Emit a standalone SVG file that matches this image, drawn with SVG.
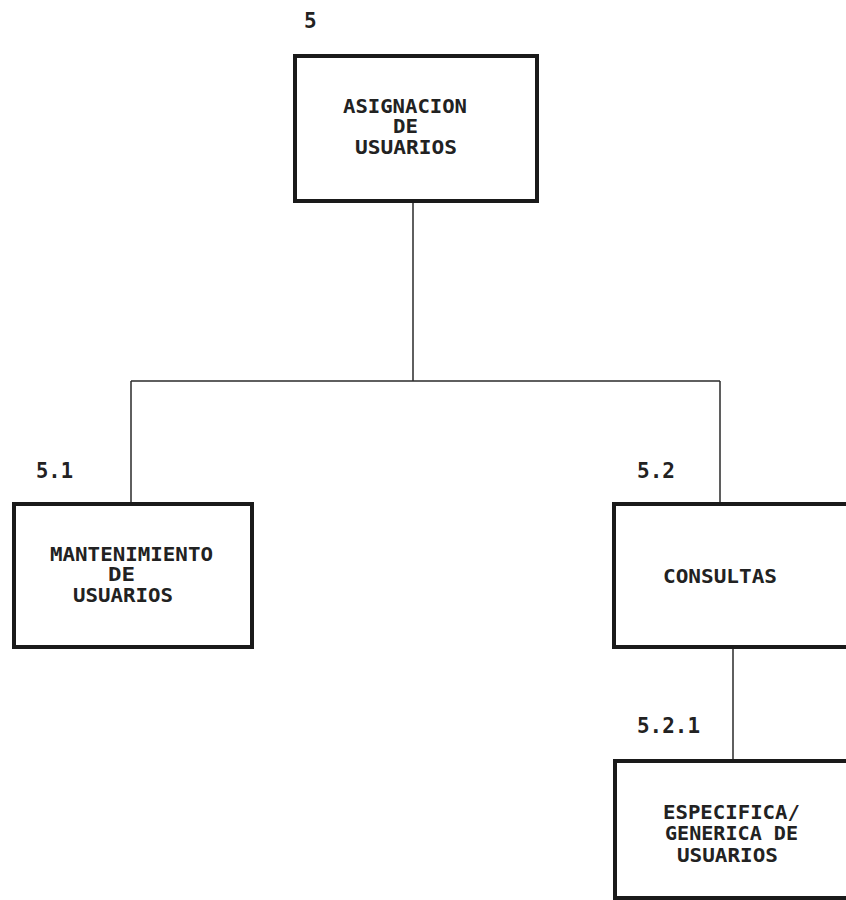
<svg xmlns="http://www.w3.org/2000/svg" width="846" height="900" viewBox="0 0 846 900">
<style>
.box{fill:#fff;stroke:#1a1a1a;stroke-width:4}
.conn{fill:none;stroke:#2a2a2a;stroke-width:1.5}
.t{font-family:"DejaVu Sans Mono","Liberation Mono",monospace;font-size:19px;font-weight:bold;fill:#222}
.lbl{font-family:"DejaVu Sans Mono","Liberation Mono",monospace;font-size:21px;font-weight:bold;fill:#222}
</style>
<rect width="846" height="900" fill="#fff"/>
<g id="connectors">
<line class="conn" x1="413" y1="202" x2="413" y2="381"/>
<line class="conn" x1="131" y1="381" x2="720" y2="381"/>
<line class="conn" x1="131" y1="381" x2="131" y2="503"/>
<line class="conn" x1="720" y1="381" x2="720" y2="503"/>
<line class="conn" x1="733" y1="647" x2="733" y2="760"/>
</g>
<g id="node-5">
<text class="lbl" x="304" y="28">5</text>
<rect class="box" x="295" y="56" width="242" height="145"/>
<text class="t" x="343" y="113" textLength="124" lengthAdjust="spacingAndGlyphs">ASIGNACION</text>
<text class="t" x="393" y="133" textLength="25" lengthAdjust="spacingAndGlyphs">DE</text>
<text class="t" x="355" y="154" textLength="102" lengthAdjust="spacingAndGlyphs">USUARIOS</text>
</g>
<g id="node-5-1">
<text class="lbl" x="36" y="478" textLength="37" lengthAdjust="spacingAndGlyphs">5.1</text>
<rect class="box" x="14" y="504" width="238" height="143"/>
<text class="t" x="50" y="561" textLength="163" lengthAdjust="spacingAndGlyphs">MANTENIMIENTO</text>
<text class="t" x="108" y="581" textLength="27" lengthAdjust="spacingAndGlyphs">DE</text>
<text class="t" x="73" y="602" textLength="100" lengthAdjust="spacingAndGlyphs">USUARIOS</text>
</g>
<g id="node-5-2">
<text class="lbl" x="637" y="478" textLength="38" lengthAdjust="spacingAndGlyphs">5.2</text>
<rect class="box" x="614" y="504" width="250" height="143"/>
<text class="t" x="663" y="583" textLength="114" lengthAdjust="spacingAndGlyphs">CONSULTAS</text>
</g>
<g id="node-5-2-1">
<text class="lbl" x="637" y="733" textLength="63" lengthAdjust="spacingAndGlyphs">5.2.1</text>
<rect class="box" x="615" y="761" width="250" height="137"/>
<text class="t" x="663" y="819" textLength="137" lengthAdjust="spacingAndGlyphs">ESPECIFICA/</text>
<text class="t" x="665" y="840" textLength="133" lengthAdjust="spacingAndGlyphs">GENERICA DE</text>
<text class="t" x="677" y="862" textLength="101" lengthAdjust="spacingAndGlyphs">USUARIOS</text>
</g>
</svg>
